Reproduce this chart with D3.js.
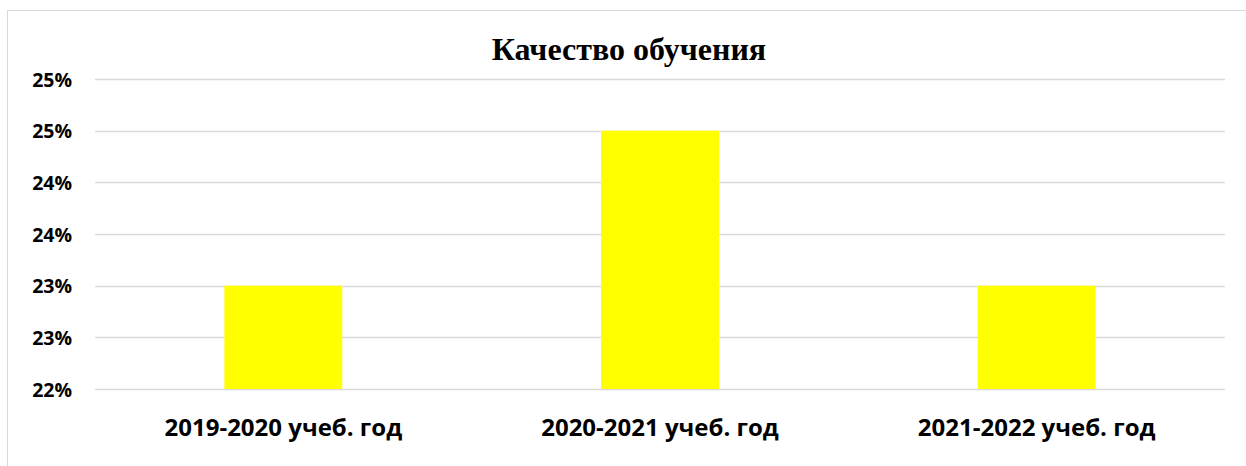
<!DOCTYPE html>
<html><head><meta charset="utf-8">
<script src="https://cdn.jsdelivr.net/npm/d3@7/dist/d3.min.js"></script>
<style>body{margin:0;background:#fff}</style>
</head><body><svg id="c" width="1246" height="466"></svg>
<script>
const categories = ["2019-2020 учеб. год", "2020-2021 учеб. год", "2021-2022 учеб. год"];
const values = [0.23, 0.245, 0.23];
const tickValues = [0.22, 0.225, 0.23, 0.235, 0.24, 0.245, 0.25];
const title = "Качество обучения";

const svg = d3.select("#c");
const W = 1246, H = 466;
const m = {left: 95, right: 21, top: 79, bottom: 77};

svg.append("rect").attr("x", 7.5).attr("y", 10.5).attr("width", W).attr("height", H)
  .attr("fill", "#fff").attr("stroke", "#d9d9d9").attr("stroke-width", 1);

const x = d3.scaleBand().domain(categories).range([m.left, W - m.right]).paddingInner(0.687).paddingOuter(0.3435);
const y = d3.scaleLinear().domain([0.22, 0.25]).range([389, 79]);

const fmt = d3.format(".0%");

svg.append("g").selectAll("line").data(tickValues).join("line")
  .attr("x1", m.left).attr("x2", W - m.right)
  .attr("y1", d => Math.round(y(d)) + 0.5).attr("y2", d => Math.round(y(d)) + 0.5)
  .attr("stroke", "#d9d9d9").attr("stroke-width", 1.3);

svg.append("g").selectAll("rect").data(values).join("rect")
  .attr("x", (d, i) => x(categories[i])).attr("width", x.bandwidth())
  .attr("y", d => y(d)).attr("height", d => y(0.22) - y(d))
  .attr("fill", "#ffff00");

const yAxis = d3.axisLeft(y).tickValues(tickValues).tickFormat(fmt).tickSize(0).tickPadding(0);
const ga = svg.append("g").attr("transform", "translate(72,0)").call(yAxis);
ga.select(".domain").remove();
ga.selectAll("text").attr("font-family", "'Open Sans', sans-serif").attr("font-weight", "bold")
  .attr("font-size", 19.5).attr("fill", "#000").attr("dy", "0.36em");

const xAxis = d3.axisBottom(x).tickSize(0).tickPadding(0);
const gx = svg.append("g").attr("transform", "translate(0,0)").call(xAxis);
gx.select(".domain").remove();
gx.selectAll("text").attr("font-family", "'Open Sans', sans-serif").attr("font-weight", "bold")
  .attr("font-size", 24).attr("fill", "#000").attr("y", 436).attr("dy", 0);

svg.append("text").attr("x", 629).attr("y", 60).attr("text-anchor", "middle")
  .attr("font-family", "'Liberation Serif', serif").attr("font-weight", "bold").attr("font-size", 32)
  .text(title);
</script></body></html>
